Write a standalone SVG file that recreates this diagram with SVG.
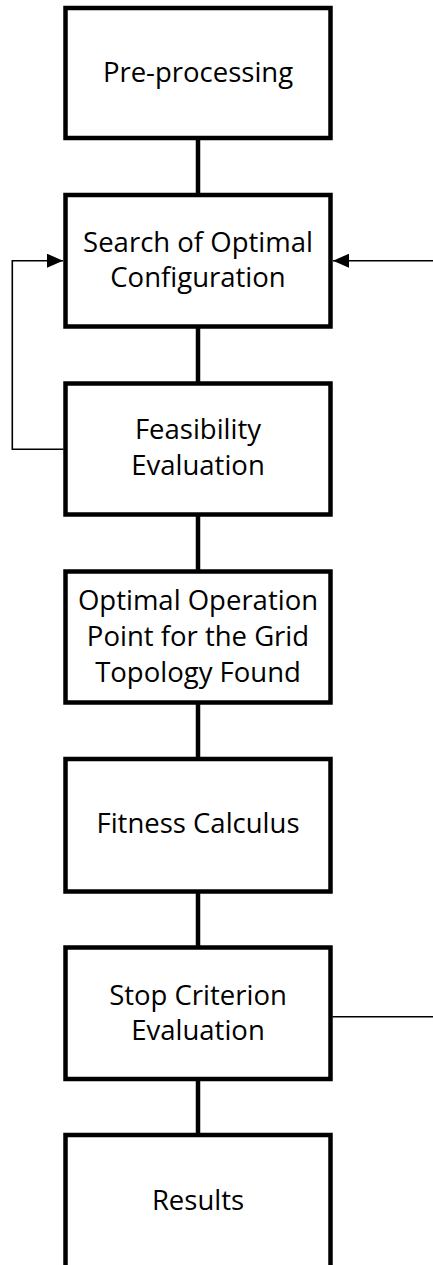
<svg xmlns="http://www.w3.org/2000/svg" width="433" height="1265" viewBox="0 0 433 1265">
<style>
.box{fill:#fff;stroke:#000;stroke-width:4.5;}
.lbl{font-family:"Open Sans","Liberation Sans",sans-serif;font-size:27.5px;fill:#000;text-anchor:middle;}
.thick{stroke:#000;stroke-width:4.5;fill:none;}
.thin{stroke:#000;stroke-width:1.6;fill:none;}
</style>
<defs>
<marker id="arr" markerUnits="userSpaceOnUse" viewBox="0 0 16 14" refX="16" refY="7" markerWidth="16" markerHeight="14" orient="auto">
<path d="M0,0 L16,7 L0,14 z" fill="#000"/>
</marker>
</defs>
<rect width="433" height="1265" fill="#fff"/>
<g id="connectors">
<line class="thick" x1="198" y1="138" x2="198" y2="195"/>
<line class="thick" x1="198" y1="326.5" x2="198" y2="383.5"/>
<line class="thick" x1="198" y1="514.5" x2="198" y2="571.5"/>
<line class="thick" x1="198" y1="702.5" x2="198" y2="759"/>
<line class="thick" x1="198" y1="891.5" x2="198" y2="947.5"/>
<line class="thick" x1="198" y1="1079" x2="198" y2="1135"/>
<polyline class="thin" points="63.5,449.3 12.3,449.3 12.3,260.7 63,260.7" marker-end="url(#arr)"/>
<line class="thin" x1="440" y1="260.7" x2="333" y2="260.7" marker-end="url(#arr)"/>
<line class="thin" x1="332.5" y1="1016.7" x2="440" y2="1016.7"/>
</g>
<g id="n1">
<rect class="box" x="65.5" y="8" width="265" height="130"/>
<text class="lbl" x="198" y="82">Pre-processing</text>
</g>
<g id="n2">
<rect class="box" x="65.5" y="195" width="265" height="131.5"/>
<text class="lbl" x="198" y="251.7">Search of Optimal</text>
<text class="lbl" x="198" y="287.3">Configuration</text>
</g>
<g id="n3">
<rect class="box" x="65.5" y="383.5" width="265" height="131"/>
<text class="lbl" x="198" y="439.3">Feasibility</text>
<text class="lbl" x="198" y="475">Evaluation</text>
</g>
<g id="n4">
<rect class="box" x="65.5" y="571.5" width="265" height="131"/>
<text class="lbl" x="198" y="610">Optimal Operation</text>
<text class="lbl" x="198" y="645.7">Point for the Grid</text>
<text class="lbl" x="198" y="681.7">Topology Found</text>
</g>
<g id="n5">
<rect class="box" x="65.5" y="759" width="265" height="132.5"/>
<text class="lbl" x="198" y="833.3">Fitness Calculus</text>
</g>
<g id="n6">
<rect class="box" x="65.5" y="947.5" width="265" height="131.5"/>
<text class="lbl" x="198" y="1005">Stop Criterion</text>
<text class="lbl" x="198" y="1040">Evaluation</text>
</g>
<g id="n7">
<rect class="box" x="65.5" y="1135" width="265" height="150"/>
<text class="lbl" x="198" y="1210">Results</text>
</g>
</svg>
